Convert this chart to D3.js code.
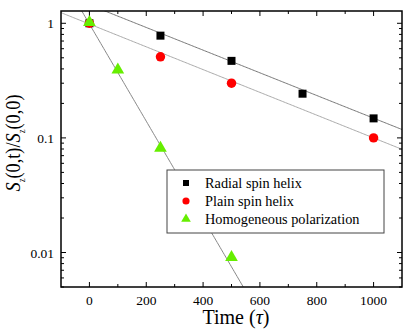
<!DOCTYPE html>
<html><head><meta charset="utf-8">
<script src="https://cdn.jsdelivr.net/npm/d3@7"></script>
<style>body{margin:0;background:#fff}svg{display:block}</style>
</head><body><svg id="c" width="409" height="329" font-family="Liberation Serif"></svg>
<script>
const radialT = [0, 250, 500, 750, 1000];
const radialV = [1.0, 0.78, 0.47, 0.243, 0.148];
const plainT = [0, 250, 500, 1000];
const plainV = [1.0, 0.51, 0.30, 0.10];
const homoT = [0, 100, 250, 500];
const homoV = [1.0, 0.385, 0.080, 0.0089];
// exponential fits: A * exp(-t / T)
const fitRadial = {A: 1.45, T: 439};
const fitPlain = {A: 0.985, T: 437};
const fitHomo = {A: 0.985, T: 102.5};
const xTicks = [0, 200, 400, 600, 800, 1000];
const yTicks = [1, 0.1, 0.01];
const legendLabels = ["Radial spin helix", "Plain spin helix", "Homogeneous polarization"];

const FONT = "Liberation Serif";
const svg = d3.select("#c");
const L = 61, R = 402, T = 11, B = 287;
const x = d3.scaleLinear().domain([-100, 1100]).range([L, R]);
const y = d3.scaleLog().domain([0.005, 1.28]).range([B, T]);

const g = svg.append("g");
svg.append("clipPath").attr("id","cl").append("rect").attr("x",L).attr("y",T).attr("width",R-L).attr("height",B-T);
function fitLine(f, color){
  const pts = d3.range(-100, 1101, 5).map(t => [t, f.A*Math.exp(-t/f.T)]);
  g.append("path").attr("clip-path","url(#cl)")
   .attr("d", d3.line().x(d=>x(d[0])).y(d=>y(Math.max(d[1],1e-4)))(pts))
   .attr("fill","none").attr("stroke",color).attr("stroke-width",1);
}
fitLine(fitRadial, "#777");
fitLine(fitPlain, "#aaa");
fitLine(fitHomo, "#888");

g.append("rect").attr("x",L).attr("y",T).attr("width",R-L).attr("height",B-T).attr("fill","none").attr("stroke","#000").attr("stroke-width",1.5);

const xMinor = d3.range(-100, 1101, 100);
const yMinor = [];
[0.001,0.01,0.1,1].forEach(d=>{for(let k=1;k<10;k++){const v=d*k; if(v>=0.005 && v<=1.28) yMinor.push(v);}});

const tg = g.append("g").attr("stroke","#000").attr("stroke-width",1);
xMinor.forEach(v=>{
  const major = xTicks.includes(v); const len = major?5:3;
  if (x(v)<=L||x(v)>=R) return;
  tg.append("line").attr("x1",x(v)).attr("x2",x(v)).attr("y1",B).attr("y2",B-len);
  tg.append("line").attr("x1",x(v)).attr("x2",x(v)).attr("y1",T).attr("y2",T+len);
});
yMinor.forEach(v=>{
  const major = yTicks.some(t=>Math.abs(t-v)<1e-9); const len = major?5:3;
  tg.append("line").attr("x1",L).attr("x2",L+len).attr("y1",y(v)).attr("y2",y(v));
  tg.append("line").attr("x1",R).attr("x2",R-len).attr("y1",y(v)).attr("y2",y(v));
});

xTicks.forEach(v=>{
  svg.append("text").attr("font-family",FONT).attr("x",x(v)).attr("y",304.5).attr("text-anchor","middle").attr("font-size",13.5).text(v);
});
yTicks.forEach(v=>{
  svg.append("text").attr("font-family",FONT).attr("x",54).attr("y",y(v)+5).attr("text-anchor","end").attr("font-size",13.5).text(d3.format("~g")(v));
});

const xt = svg.append("text").attr("font-family",FONT).attr("x",236).attr("y",324).attr("text-anchor","middle").attr("font-size",20);
xt.append("tspan").text("Time (");
xt.append("tspan").attr("font-style","italic").text("τ");
xt.append("tspan").text(")");

const yt = svg.append("text").attr("font-family",FONT).attr("transform","translate(20,143) rotate(-90) scale(0.87,1)").attr("text-anchor","middle").attr("font-size",21);
yt.append("tspan").attr("font-style","italic").text("S");
yt.append("tspan").attr("font-size",10).attr("dy",5).text("z");
yt.append("tspan").attr("dy",-5).text("(0,t)/");
yt.append("tspan").attr("font-style","italic").text("S");
yt.append("tspan").attr("font-size",10).attr("dy",5).text("z");
yt.append("tspan").attr("dy",-5).text("(0,0)");

const sq = d3.symbol().type(d3.symbolSquare).size(64);
const ci = d3.symbol().type(d3.symbolCircle).size(70);
const tr = d3.symbol().type(d3.symbolTriangle).size(70);
const green = "#66ee00";
radialT.forEach((t,i)=>g.append("path").attr("d",sq()).attr("transform",`translate(${x(t)},${y(radialV[i])})`).attr("fill","#000"));
plainT.forEach((t,i)=>g.append("path").attr("d",ci()).attr("transform",`translate(${x(t)},${y(plainV[i])})`).attr("fill","#ff0000"));
homoT.forEach((t,i)=>g.append("path").attr("d",tr()).attr("transform",`translate(${x(t)},${y(homoV[i])-1})`).attr("fill",green));

const lg = svg.append("g");
lg.append("rect").attr("x",167).attr("y",170).attr("width",217).attr("height",63).attr("fill","#fff").attr("stroke","#444").attr("stroke-width",1);
const syms = [d3.symbol().type(d3.symbolSquare).size(36), d3.symbol().type(d3.symbolCircle).size(40), d3.symbol().type(d3.symbolTriangle).size(40)];
const cols = ["#000","#ff0000",green];
legendLabels.forEach((s,i)=>{
  const yy = 183 + i*18;
  lg.append("path").attr("d",syms[i]()).attr("transform",`translate(186,${yy})`).attr("fill",cols[i]);
  lg.append("text").attr("font-family",FONT).attr("x",205).attr("y",yy+5).attr("font-size",14.3).text(s);
});
</script></body></html>
